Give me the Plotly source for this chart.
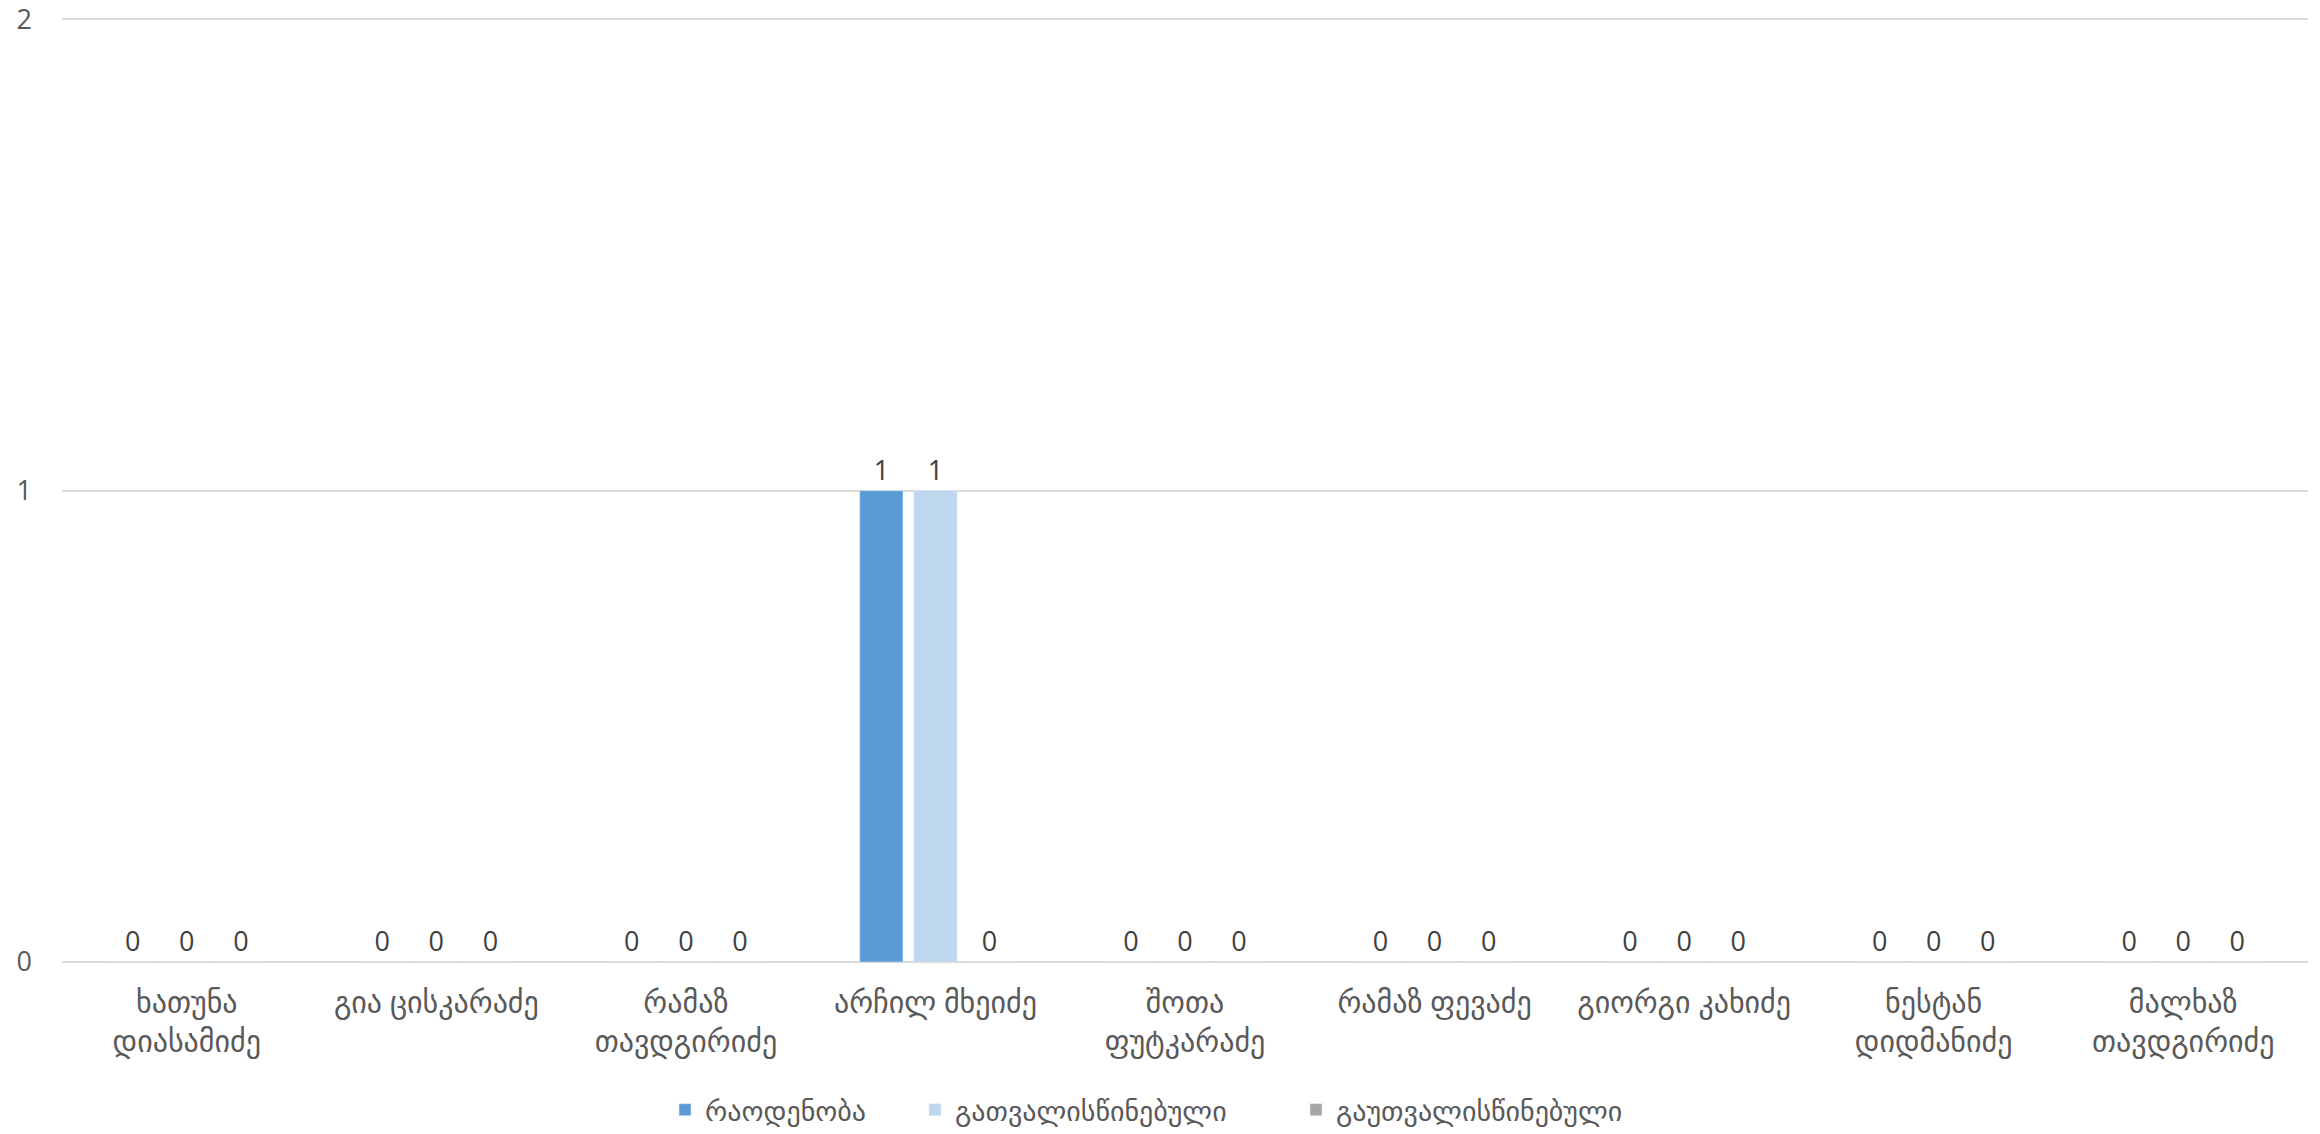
import plotly.graph_objects as go

categories = [
    "ხათუნა<br>დიასამიძე",
    "გია ცისკარაძე",
    "რამაზ<br>თავდგირიძე",
    "არჩილ მხეიძე",
    "შოთა<br>ფუტკარაძე",
    "რამაზ ფევაძე",
    "გიორგი კახიძე",
    "ნესტან<br>დიდმანიძე",
    "მალხაზ<br>თავდგირიძე",
]
series_names = ["რაოდენობა", "გათვალისწინებული", "გაუთვალისწინებული"]
count_vals = [0, 0, 0, 1, 0, 0, 0, 0, 0]
considered_vals = [0, 0, 0, 1, 0, 0, 0, 0, 0]
unconsidered_vals = [0, 0, 0, 0, 0, 0, 0, 0, 0]
colors = ["#5B9BD5", "#BDD7EE", "#A5A5A5"]
y_ticks = [0, 1, 2]

FONT = "Open Sans, DejaVu Sans, sans-serif"
TXT = "#595959"

W, H = 2320, 1134
legend_ids = ["legend", "legend2", "legend3"]
legend_left_px = [665, 915, 1296]

fig = go.Figure()
for name, vals, col, lid in zip(series_names, [count_vals, considered_vals, unconsidered_vals], colors, legend_ids):
    fig.add_trace(go.Bar(
        x=categories, y=vals, name=name, marker_color=col,
        text=[str(v) for v in vals], textposition="outside",
        textfont=dict(family=FONT, size=27, color="#404040"),
        cliponaxis=False, legend=lid,
    ))

legend_cfg = {}
for lid, lx in zip(legend_ids, legend_left_px):
    legend_cfg[lid] = dict(
        orientation="h", x=lx / W, xanchor="left", xref="container",
        y=24 / H, yanchor="middle", yref="container",
        font=dict(family=FONT, size=28, color=TXT), itemwidth=30,
        bgcolor="rgba(0,0,0,0)",
    )

fig.update_layout(
    width=W, height=H,
    paper_bgcolor="white", plot_bgcolor="white",
    margin=dict(l=62, r=12, t=18, b=172),
    barmode="group", bargap=0.35, bargroupgap=0.2,
    font=dict(family=FONT, size=26, color=TXT),
    showlegend=True,
    **legend_cfg,
)
fig.update_yaxes(range=[0, 2.003], tickvals=y_ticks, showgrid=True, gridcolor="#D9D9D9", gridwidth=2,
                 zeroline=True, zerolinecolor="#D9D9D9", zerolinewidth=2,
                 tickfont=dict(family=FONT, size=27, color=TXT), ticklen=0, ticks="",
                 ticklabelstandoff=29, ticklabeloverflow="allow",
                 showline=False, automargin=False)
fig.update_xaxes(tickfont=dict(family=FONT, size=30, color=TXT), tickangle=0, ticks="",
                 ticklabelstandoff=20, ticklabeloverflow="allow",
                 showline=False, showgrid=False, automargin=False)

fig.write_html("out.html",
               config={"displayModeBar": False},
               post_script="document.body.style.margin='0';document.body.style.overflow='hidden';")
